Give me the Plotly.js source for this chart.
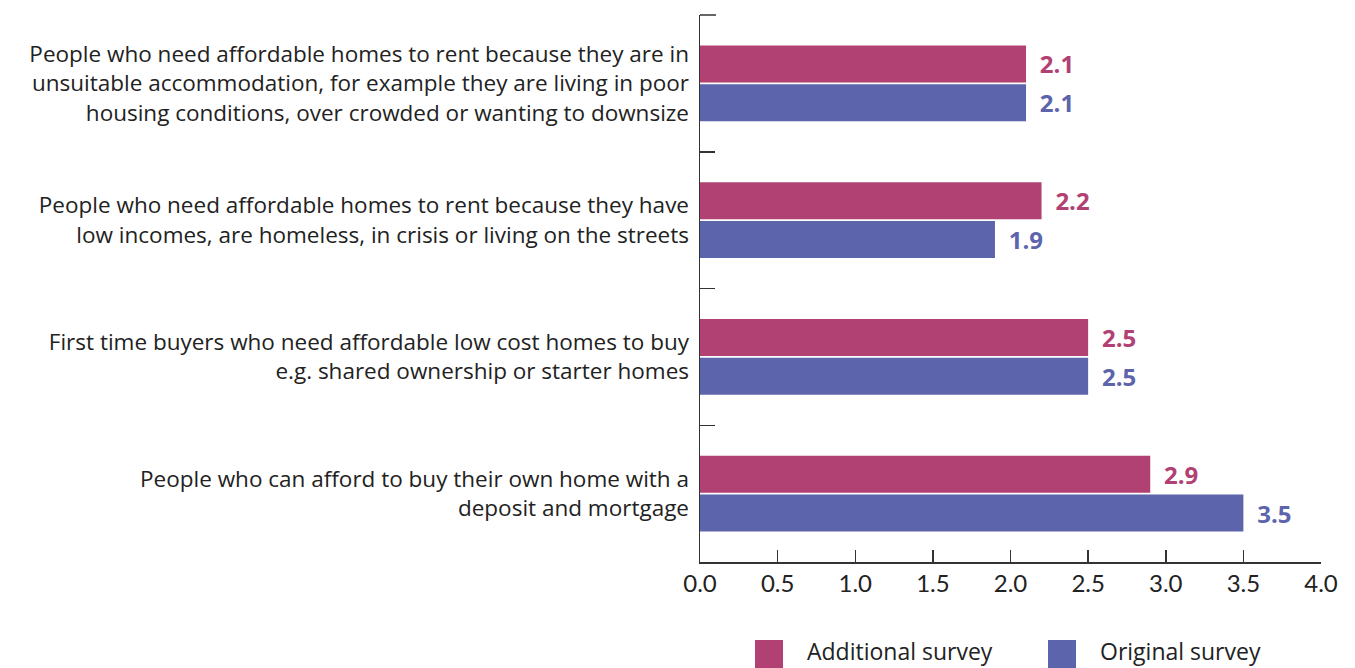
<!DOCTYPE html>
<html><head><meta charset="utf-8">
<script src="https://cdn.plot.ly/plotly-3.0.1.min.js"></script>
<style>body{margin:0;background:#fff}#chart{width:1355px;height:668px}</style>
</head><body><div id="chart"></div>
<script>
const categories = [
  "People who need affordable homes to rent because they are in<br>unsuitable accommodation, for example they are living in poor<br>housing conditions, over crowded or wanting to downsize",
  "People who need affordable homes to rent because they have<br>low incomes, are homeless, in crisis or living on the streets",
  "First time buyers who need affordable low cost homes to buy<br>e.g. shared ownership or starter homes",
  "People who can afford to buy their own home with a<br>deposit and mortgage"
];
const seriesNames = ["Additional survey", "Original survey"];
const additionalValues = [2.1, 2.2, 2.5, 2.9];
const originalValues = [2.1, 1.9, 2.5, 3.5];
const xTickValues = [0, 0.5, 1, 1.5, 2, 2.5, 3, 3.5, 4];

const colors = ["#B24173", "#5C64AC"];
const FONT = "'Open Sans', 'Noto Sans', sans-serif";
const TICKFONT = "Lato, 'Open Sans', sans-serif";

function barTrace(name, vals, color) {
  return {
    type: "bar", orientation: "h", name: name,
    x: vals, y: categories,
    marker: {color: color},
    text: vals.map(v => "\u2008\u2009" + v.toFixed(1)),
    textposition: "outside",
    textfont: {family: FONT, size: 24, color: color, weight: 700},
    cliponaxis: false,
    hoverinfo: "x+name"
  };
}

const data = [
  barTrace(seriesNames[0], additionalValues, colors[0]),
  barTrace(seriesNames[1], originalValues, colors[1])
];

// plot area in pixels: left 700, right 1321, top 15, bottom 562
const PW = 621, PH = 547, PL = 700, PB = 562;
const px = x => (x - PL) / PW;
const py = y => (PB - y) / PH;

const shapes = [
  {type: "line", xref: "paper", yref: "paper", x0: 0, x1: px(716), y0: 1, y1: 1,
   line: {color: "#333", width: 1.5}}
];
const annotations = [];
const legendX = [755, 1048];
seriesNames.forEach((n, i) => {
  shapes.push({type: "rect", xref: "paper", yref: "paper",
    x0: px(legendX[i]), x1: px(legendX[i] + 28),
    y0: py(668), y1: py(640),
    line: {width: 0}, fillcolor: colors[i]});
  annotations.push({xref: "paper", yref: "paper",
    x: px(legendX[i] + 50), y: py(651),
    xanchor: "left", yanchor: "middle", showarrow: false,
    text: n, font: {family: FONT, size: 23, color: "#222"}});
});

const layout = {
  width: 1355, height: 668,
  margin: {l: 700, r: 34, t: 15, b: 106},
  paper_bgcolor: "#fff", plot_bgcolor: "#fff",
  barmode: "group", bargap: 0.43, bargroupgap: 0.05,
  showlegend: false,
  font: {family: FONT, color: "#222"},
  xaxis: {
    range: [0, 4], tickvals: xTickValues, tickformat: ".1f",
    showgrid: false, zeroline: false,
    showline: true, linecolor: "#333", linewidth: 1.5,
    ticks: "inside", ticklen: 12, tickcolor: "#333", tickwidth: 1.5,
    tickfont: {family: TICKFONT, size: 24, color: "#222"},
    fixedrange: true
  },
  yaxis: {
    autorange: "reversed",
    showgrid: false, zeroline: false,
    showline: true, linecolor: "#333", linewidth: 1.5,
    ticks: "inside", tickson: "boundaries", ticklen: 15, tickcolor: "#333", tickwidth: 1.5,
    tickfont: {family: FONT, size: 22.5, color: "#222"},
    ticklabelstandoff: 5,
    fixedrange: true
  },
  shapes: shapes,
  annotations: annotations
};

Plotly.newPlot("chart", data, layout, {displayModeBar: false, staticPlot: true});
</script>
</body></html>
